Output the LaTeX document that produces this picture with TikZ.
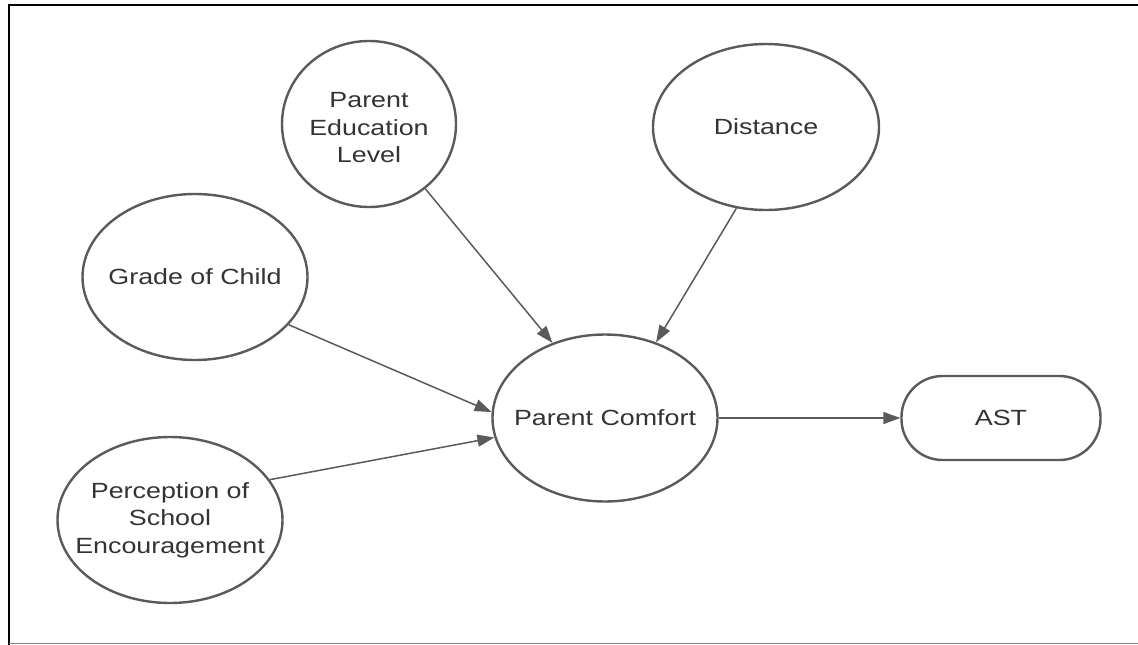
\documentclass[tikz,border=0pt]{standalone}
\usepackage{fontspec}
\setmainfont{Liberation Sans}
\usetikzlibrary{arrows.meta,shapes.geometric}
\definecolor{linegray}{HTML}{5A5A5A}
\definecolor{textgray}{HTML}{333333}
\definecolor{framegray}{HTML}{8A8A8A}
\newcommand\sx[1]{\scalebox{1.22}[1]{#1}}
\begin{document}
\begin{tikzpicture}[x=1pt,y=-1pt,
  ell/.style={ellipse, draw=linegray, line width=2.4pt, inner sep=0pt},
  pill/.style={rectangle, rounded corners=41pt, draw=linegray, line width=2.4pt, inner sep=0pt},
  txt/.style={font=\fontsize{22}{27.5}\selectfont, text=textgray, align=center, inner sep=0pt},
  conn/.style={draw=linegray, line width=1.5pt, -{Triangle[length=17pt,width=12pt]}}]
\useasboundingbox (0,0) rectangle (1138,645);
\draw[black, line width=2.5pt] (1138,5) -- (9,5) -- (9,645);
\draw[framegray, line width=1.5pt] (9,643.5) -- (1138,643.5);

\node[ell, minimum width=174, minimum height=166] (pel) at (369,124) {};
\node[txt] (pelt) at (369,128) {\sx{Parent}\\\sx{Education}\\\sx{Level}};

\node[ell, minimum width=226, minimum height=166] (dis) at (766,127) {};
\node[txt] (dist) at (dis) {\sx{Distance}};

\node[ell, minimum width=225, minimum height=166] (goc) at (195,277) {};
\node[txt] (goct) at (goc) {\sx{Grade of Child}};

\node[ell, minimum width=225, minimum height=166] (pse) at (170,520) {};
\node[txt] (pset) at (170,520) {\sx{Perception of}\\\sx{School}\\\sx{Encouragement}};

\node[ell, minimum width=225, minimum height=167] (pc) at (605,418) {};
\node[txt] (pct) at (pc) {\sx{Parent Comfort}};

\node[pill, minimum width=199, minimum height=84] (ast) at (1001,418) {};
\node[txt] (astt) at (ast) {\sx{AST}};

\draw[conn] (pel.-49) -- (pc.125);
\draw[conn] (dis.-110) -- (pc.56);
\draw[conn] (goc.-27) -- (pc.177);
\draw[conn] (pse.22) -- (pc.190);
\draw[conn] (pc.east) -- (ast.west);
\end{tikzpicture}
\end{document}
